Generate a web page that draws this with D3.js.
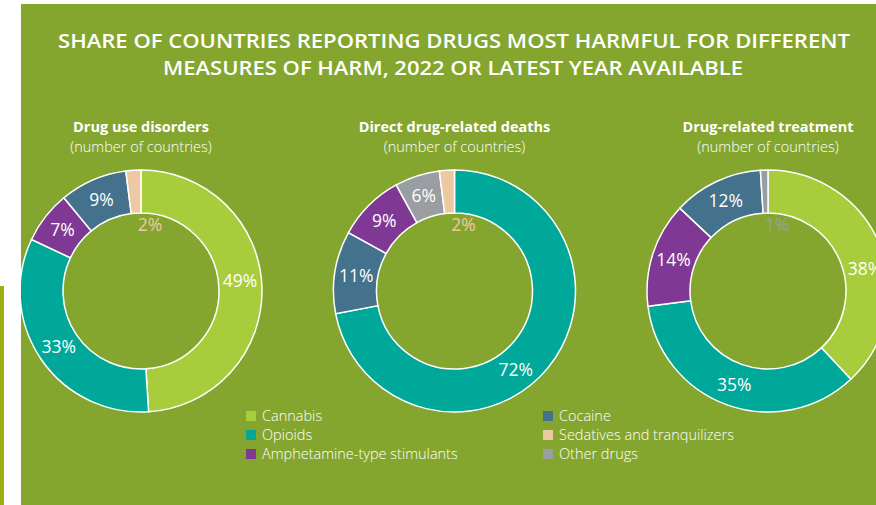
<!DOCTYPE html>
<html>
<head>
<meta charset="utf-8">
<script src="https://cdn.jsdelivr.net/npm/d3@7"></script>
<style>
  body { margin: 0; background: #fff; }
  svg { display: block; font-family: "Open Sans", "Noto Sans", sans-serif; }
</style>
</head>
<body>
<svg id="chart" width="876" height="505"></svg>
<script>
// drug categories and colours
const drugs = ["Cannabis", "Opioids", "Amphetamine-type stimulants", "Cocaine", "Sedatives and tranquilizers", "Other drugs"];
const drugColors = ["#a8cd3c", "#00a89a", "#7f3893", "#44718c", "#ecc9a3", "#9a9da1"];

const titleLines = ["SHARE OF COUNTRIES REPORTING DRUGS MOST HARMFUL FOR DIFFERENT",
                    "MEASURES OF HARM, 2022 OR LATEST YEAR AVAILABLE"];

// each chart: slices in clockwise order from 12 o'clock
const disordersDrugs = ["Cannabis", "Opioids", "Amphetamine-type stimulants", "Cocaine", "Sedatives and tranquilizers"];
const disordersShare = [49, 33, 7, 9, 2];

const deathsDrugs = ["Opioids", "Cocaine", "Amphetamine-type stimulants", "Other drugs", "Sedatives and tranquilizers"];
const deathsShare = [72, 11, 9, 6, 2];

const treatmentDrugs = ["Cannabis", "Opioids", "Amphetamine-type stimulants", "Cocaine", "Other drugs"];
const treatmentShare = [38, 35, 14, 12, 1];

const chartTitles = ["Drug use disorders", "Direct drug-related deaths", "Drug-related treatment"];
const chartSub = "(number of countries)";

const charts = [
  {title: chartTitles[0], keys: disordersDrugs, values: disordersShare},
  {title: chartTitles[1], keys: deathsDrugs, values: deathsShare},
  {title: chartTitles[2], keys: treatmentDrugs, values: treatmentShare}
];

const svg = d3.select("#chart");
const color = d3.scaleOrdinal().domain(drugs).range(drugColors);

// stray strip on the left edge
svg.append("rect").attr("x", 0).attr("y", 286).attr("width", 4).attr("height", 219).attr("fill", "#9bb00d");

const panel = {x: 21, y: 4, w: 855, h: 501};
svg.append("clipPath").attr("id", "panelClip")
  .append("rect").attr("x", panel.x).attr("y", panel.y).attr("width", panel.w).attr("height", panel.h);

const g = svg.append("g").attr("clip-path", "url(#panelClip)");
g.append("rect").attr("x", panel.x).attr("y", panel.y).attr("width", panel.w).attr("height", panel.h)
  .attr("fill", "#84a62f");

// title
const titleBox = [[58, 850, 48], [163, 743, 75]];
titleLines.forEach((t, i) => {
  g.append("text")
    .attr("x", (titleBox[i][0] + titleBox[i][1]) / 2)
    .attr("y", titleBox[i][2])
    .attr("text-anchor", "middle")
    .attr("fill", "#fff")
    .attr("font-size", 20)
    .attr("font-weight", 600)
    .attr("textLength", titleBox[i][1] - titleBox[i][0])
    .attr("lengthAdjust", "spacingAndGlyphs")
    .text(t);
});

const x = d3.scalePoint().domain(chartTitles).range([141, 768]);
const cy = 291, rOuter = 121, rInner = 78;

const pie = d3.pie().sort(null).value(d => d.v);
const arc = d3.arc().innerRadius(rInner).outerRadius(rOuter);
const midArc = d3.arc().innerRadius(99.5).outerRadius(99.5);
const fmt = d => d + "%";

// label angle tweaks (degrees, clockwise from top)
const labelAngle = {
  "Drug use disorders|Cannabis": 84,
  "Direct drug-related deaths|Opioids": 142,
  "Drug-related treatment|Cannabis": 77
};

charts.forEach(c => {
  const cx = x(c.title);
  const cg = g.append("g").attr("transform", `translate(${cx},${cy})`);

  const data = pie(c.keys.map((k, i) => ({k: k, v: c.values[i]})));

  cg.selectAll("path").data(data).join("path")
    .attr("d", arc)
    .attr("fill", d => color(d.data.k))
    .attr("stroke", "#fff")
    .attr("stroke-width", 1.5);

  cg.selectAll("text.lbl").data(data).join("text")
    .attr("class", "lbl")
    .attr("text-anchor", "middle")
    .attr("dy", "0.35em")
    .attr("font-size", 17.5)
    .attr("font-weight", 400)
    .attr("fill", d => d.data.v <= 2 ? color(d.data.k) : "#fff")
    .attr("transform", d => {
      // tiny slices get their label just inside the hole
      if (d.data.v <= 2) return `translate(9,${-rInner + 12})`;
      const key = c.title + "|" + d.data.k;
      if (labelAngle[key] !== undefined) {
        const a = labelAngle[key] * Math.PI / 180;
        return `translate(${99.5 * Math.sin(a)},${-99.5 * Math.cos(a)})`;
      }
      const p = midArc.centroid(d);
      return `translate(${p[0]},${p[1]})`;
    })
    .text(d => fmt(d.data.v));

  g.append("text")
    .attr("x", cx).attr("y", 132)
    .attr("text-anchor", "middle")
    .attr("fill", "#fff")
    .attr("font-size", 14.5)
    .attr("font-weight", 700)
    .text(c.title);
  g.append("text")
    .attr("x", cx).attr("y", 152)
    .attr("text-anchor", "middle")
    .attr("fill", "#fff")
    .attr("font-size", 14.5)
    .attr("font-weight", 300)
    .text(chartSub);
});

// legend
const legCol = d3.scaleOrdinal().domain([0, 1]).range([246, 543]);
const legRow = d3.scaleLinear().domain([0, 1]).range([416, 435]);
const leg = g.append("g").selectAll("g").data(drugs).join("g")
  .attr("transform", (d, i) => `translate(${legCol(Math.floor(i / 3))},${legRow(i % 3)})`);
leg.append("rect").attr("x", 0).attr("y", -5).attr("width", 10).attr("height", 10)
  .attr("fill", d => color(d));
leg.append("text").attr("x", 16).attr("dy", "0.35em")
  .attr("fill", "#fff").attr("font-size", 14.5).attr("font-weight", 300)
  .text(d => d);
</script>
</body>
</html>
